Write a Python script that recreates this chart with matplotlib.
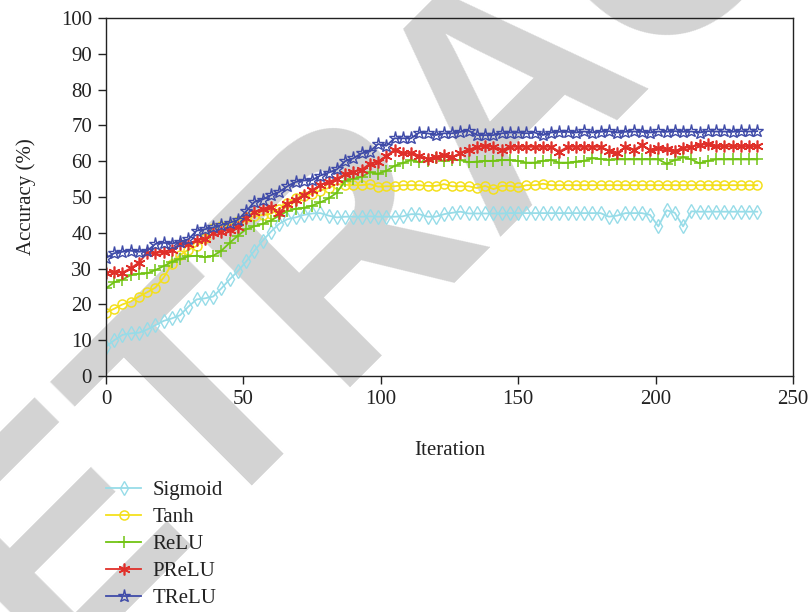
import numpy as np
import matplotlib
matplotlib.use("Agg")
import matplotlib.pyplot as plt

# Iterations at which accuracy was recorded (every third iteration)
iterations = list(range(0, 240, 3))

sigmoid = [8.2, 10.0, 11.5, 11.9, 12.1, 13.0, 14.2, 15.4, 16.1, 17.0,
           19.4, 21.4, 21.7, 22.2, 24.5, 27.0, 29.3, 32.0, 35.0, 37.8,
           40.3, 42.5, 43.8, 44.3, 45.0, 45.4, 45.5, 44.8, 44.3, 44.5,
           44.5, 44.5, 44.6, 44.5, 44.5, 44.5, 44.6, 45.2, 45.2, 44.5,
           44.5, 45.2, 45.6, 45.9, 45.4, 45.4, 45.4, 45.4, 45.4, 45.5,
           45.5, 45.5, 45.5, 45.5, 45.5, 45.5, 45.5, 45.5, 45.5, 45.5,
           45.5, 44.5, 44.8, 45.5, 45.5, 45.5, 45.0, 41.8, 46.3, 45.6,
           41.8, 46.0, 45.9, 45.9, 45.9, 45.9, 45.9, 45.9, 45.9, 45.9]

tanh = [17.7, 18.8, 20.0, 20.8, 22.2, 23.4, 24.7, 27.5, 31.3, 33.8,
        35.3, 36.3, 38.5, 41.3, 42.0, 42.2, 43.3, 44.3, 44.6, 45.0,
        45.3, 46.7, 48.3, 49.6, 50.4, 50.9, 51.8, 52.5, 53.6, 53.4,
        53.3, 53.3, 53.6, 52.9, 53.0, 53.0, 53.3, 53.3, 53.3, 53.1,
        53.1, 53.6, 53.0, 53.0, 53.0, 52.5, 53.1, 52.2, 53.1, 53.1,
        52.7, 53.3, 53.3, 53.7, 53.3, 53.3, 53.3, 53.3, 53.3, 53.3,
        53.3, 53.3, 53.3, 53.3, 53.3, 53.3, 53.3, 53.3, 53.3, 53.3,
        53.3, 53.3, 53.3, 53.3, 53.3, 53.3, 53.3, 53.3, 53.3, 53.3]

relu = [24.5, 26.2, 26.9, 28.2, 28.6, 28.7, 29.6, 30.7, 31.9, 32.7,
        33.4, 33.6, 33.2, 33.6, 35.0, 37.2, 39.2, 41.0, 41.8, 42.5,
        43.4, 44.8, 46.0, 46.7, 47.0, 47.6, 48.5, 49.6, 51.2, 54.5,
        55.1, 55.6, 56.9, 56.5, 57.3, 58.7, 59.5, 60.3, 59.7, 60.0,
        60.8, 60.0, 60.4, 60.3, 59.7, 59.9, 60.1, 60.1, 60.3, 60.3,
        60.1, 59.6, 59.6, 60.1, 60.3, 59.6, 59.6, 59.9, 60.1, 60.8,
        60.6, 60.4, 60.5, 60.5, 60.5, 60.5, 60.5, 60.5, 59.3, 60.3,
        61.1, 60.5, 59.4, 60.1, 60.5, 60.5, 60.5, 60.5, 60.5, 60.5]

prelu = [28.9, 29.1, 28.9, 30.1, 31.7, 34.4, 34.3, 34.7, 35.2, 36.9,
         36.8, 38.0, 38.2, 39.9, 40.3, 40.9, 41.7, 44.0, 45.7, 46.6,
         47.1, 45.5, 48.0, 49.2, 50.6, 51.9, 53.4, 54.2, 55.1, 56.4,
         57.0, 57.6, 59.3, 59.9, 61.5, 63.2, 62.3, 62.2, 61.5, 60.6,
         61.1, 61.7, 61.1, 62.3, 63.2, 64.0, 64.2, 64.0, 63.0, 64.0,
         64.0, 64.0, 64.0, 64.0, 64.0, 62.7, 64.0, 64.0, 64.0, 64.0,
         64.0, 62.9, 62.2, 64.0, 63.1, 64.5, 63.1, 63.6, 63.3, 62.9,
         63.6, 64.0, 64.5, 64.8, 64.2, 64.2, 64.2, 64.2, 64.2, 64.2]

trelu = [33.0, 34.3, 34.7, 35.0, 34.7, 35.0, 36.9, 37.2, 37.0, 37.5,
         38.2, 40.6, 41.0, 41.5, 42.2, 42.8, 43.6, 46.0, 48.6, 49.3,
         50.5, 51.4, 53.0, 54.2, 54.6, 54.7, 56.0, 56.8, 57.7, 60.0,
         60.8, 62.2, 62.7, 64.8, 64.3, 66.4, 66.4, 66.4, 68.0, 67.8,
         67.3, 67.8, 67.8, 68.2, 68.5, 67.3, 67.3, 67.3, 67.8, 68.0,
         68.0, 67.8, 68.0, 67.3, 68.0, 68.2, 68.2, 68.0, 68.3, 68.0,
         68.2, 68.4, 68.0, 68.2, 68.3, 68.2, 68.0, 68.3, 68.2, 68.4,
         68.2, 68.3, 68.0, 68.4, 68.3, 68.3, 68.2, 68.4, 68.3, 68.4]

series_names = ["Sigmoid", "Tanh", "ReLU", "PReLU", "TReLU"]
x_ticks = [0, 50, 100, 150, 200, 250]
y_ticks = list(range(0, 101, 10))

plt.rcParams["font.family"] = ["Liberation Serif", "DejaVu Serif"]
FS = 15

fig = plt.figure(figsize=(8.11, 6.12), dpi=100)

# Diagonal watermark drawn beneath everything else
fig.text(0.631, 0.853, "RETRACTED", rotation=45, fontsize=225,
         fontweight="bold", family="Liberation Sans", color="#d3d3d3",
         ha="center", va="center", rotation_mode="anchor", zorder=-5)

ax = fig.add_axes([0.1307, 0.3856, 0.8471, 0.585])
ax.patch.set_alpha(0)

styles = [
    dict(color="#97dce8", marker="d", ms=7.5, mfc="none", mew=1.0),
    dict(color="#f4e01c", marker="o", ms=6.5, mfc="none", mew=1.1),
    dict(color="#72c414", marker="+", ms=9, mew=1.1),
    dict(color="#e0302a", marker=(6, 2, 0), ms=8.5, mew=1.2),
    dict(color="#3f4ba8", marker="*", ms=9.5, mfc="none", mew=1.0),
]
data = [sigmoid, tanh, relu, prelu, trelu]
for name, vals, st in zip(series_names, data, styles):
    ax.plot(iterations, vals, lw=1.3, label=name, **st)

ax.set_xlim(0, 250)
ax.set_ylim(0, 100)
ax.set_xticks(x_ticks)
ax.set_yticks(y_ticks)
ax.tick_params(direction="out", length=6, width=1, labelsize=FS,
               colors="#222222", pad=4)
for sp in ax.spines.values():
    sp.set_linewidth(1.0)
    sp.set_color("#222222")

ax.set_xlabel("Iteration", fontsize=FS, labelpad=23, color="#222222")
ax.set_ylabel("Accuracy (%)", fontsize=FS, labelpad=18, color="#222222")

leg = fig.legend(loc="upper left", bbox_to_anchor=(0.1307, 0.215),
                 frameon=False, fontsize=FS, handlelength=1.7,
                 labelspacing=0.36, handletextpad=0.55, numpoints=1,
                 borderaxespad=0, borderpad=0)
for t in leg.get_texts():
    t.set_color("#222222")

fig.savefig("out.png", dpi=100)
